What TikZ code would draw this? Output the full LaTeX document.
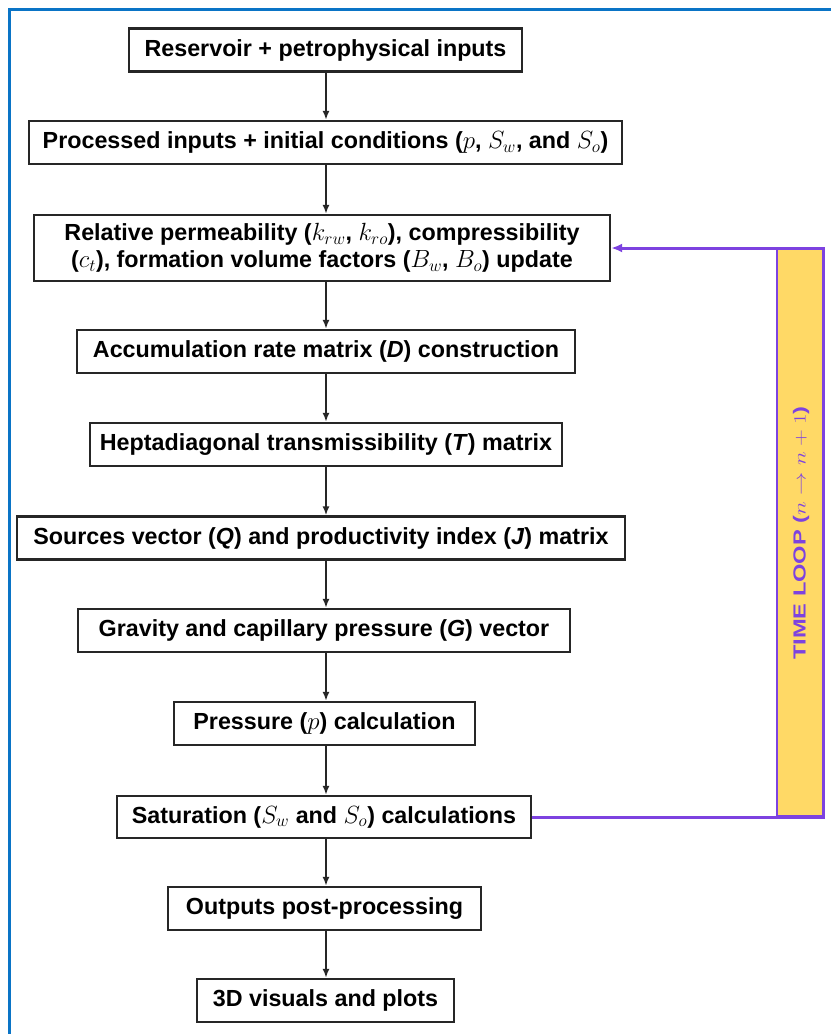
\documentclass[tikz,border=0pt]{standalone}
\usepackage{fontspec}
\setmainfont{Liberation Sans}
\usetikzlibrary{arrows.meta}
\definecolor{frameblue}{HTML}{0A74C6}
\definecolor{loopviolet}{HTML}{7D42E0}
\definecolor{looporange}{HTML}{FFD966}
\begin{document}
\begin{tikzpicture}[x=1pt,y=-1pt,
  box/.style={draw=black!85,line width=2.3pt,fill=white,minimum height=43pt,inner sep=0pt,
    font=\fontsize{23.3}{27}\selectfont\bfseries,align=center},
  arr/.style={-{Latex[length=9pt,width=7pt]},line width=1.8pt,draw=black!85},
  looparr/.style={-{Latex[length=11pt,width=9pt]},line width=3pt,draw=loopviolet}]
\useasboundingbox (0,0) rectangle (831,1034);
\fill[white] (0,0) rectangle (831,1034);
\draw[frameblue,line width=2.8pt] (9.5,1034) -- (9.5,9.5) -- (831,9.5);

\node[box,minimum width=393pt] (n1) at (325.5,50) {Reservoir + petrophysical inputs};
\node[box,minimum width=593pt] (n2) at (325.5,142.5) {Processed inputs + initial conditions ($p$, $S_w$, and $S_o$)};
\node[box,minimum width=576pt,minimum height=66pt] (n3) at (322,248) {Relative permeability ($k_{rw}$, $k_{ro}$), compressibility\\($c_t$), formation volume factors ($B_w$, $B_o$) update};
\node[box,minimum width=498pt] (n4) at (326,351.5) {Accumulation rate matrix (\textit{D}) construction};
\node[box,minimum width=472pt] (n5) at (326,444.5) {Heptadiagonal transmissibility (\textit{T}) matrix};
\node[box,minimum width=608pt] (n6) at (321,538) {Sources vector (\textit{Q}) and productivity index (\textit{J}) matrix};
\node[box,minimum width=492pt] (n7) at (324,630.5) {Gravity and capillary pressure (\textit{G}) vector};
\node[box,minimum width=301pt] (n8) at (324.5,723.5) {Pressure ($p$) calculation};
\node[box,minimum width=414pt,minimum height=42pt] (n9) at (324,817) {Saturation ($S_w$ and $S_o$) calculations};
\node[box,minimum width=313pt] (n10) at (324.5,908.5) {Outputs post-processing};
\node[box,minimum width=257pt] (n11) at (325.5,1000.5) {3D visuals and plots};

\foreach \a/\b in {n1/n2,n2/n3,n3/n4,n4/n5,n5/n6,n6/n7,n7/n8,n8/n9,n9/n10,n10/n11}
  \draw[arr] (326,0 |- \a.south) -- (326,0 |- \b.north);

\node[draw=loopviolet,line width=2.2pt,fill=looporange,minimum width=46pt,minimum height=568pt,inner sep=0pt] (bar) at (800,532.5) {};
\node[rotate=90,text=loopviolet,font=\fontsize{17.5}{20}\selectfont\bfseries] (tl) at (801,533) {\scalebox{1.35}[1]{TIME LOOP ($n \rightarrow n+1$)}};
\coordinate (loopR) at (823,532);
\draw[looparr] (n9.east) -| (loopR) |- (n3.east);
\end{tikzpicture}
\end{document}
